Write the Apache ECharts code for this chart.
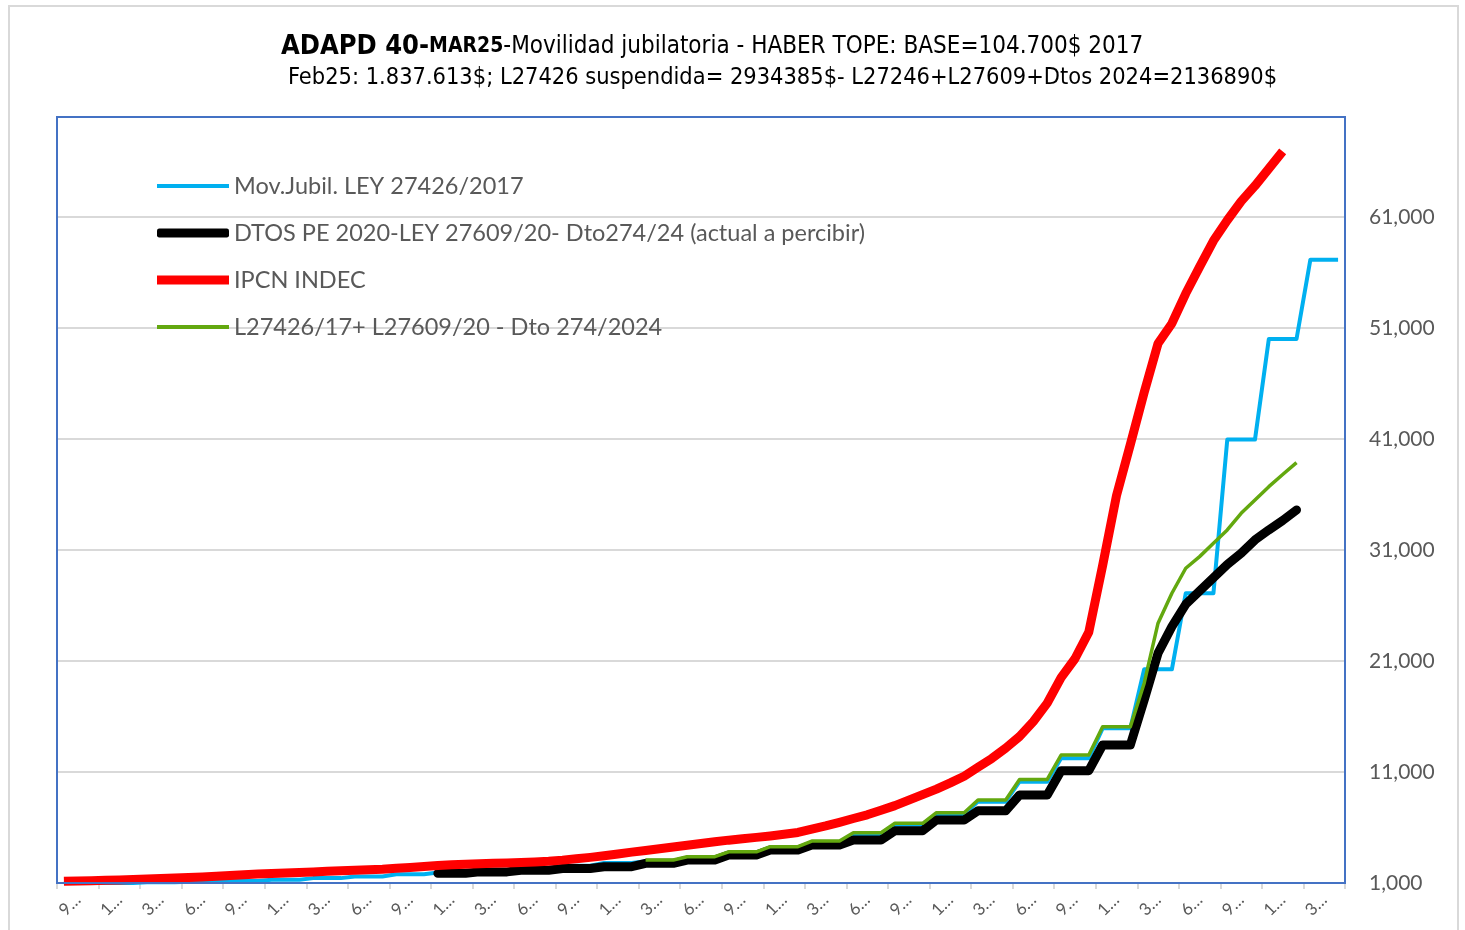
<!DOCTYPE html>
<html><head><meta charset="utf-8">
<script src="https://cdn.jsdelivr.net/npm/echarts@6/dist/echarts.min.js"></script>
<style>html,body{margin:0;padding:0;background:#fff}#c{width:1465px;height:930px}</style>
</head><body><div id="c"></div>
<script>
// Monthly categories (Sep 2017 .. May 2025)
const months = ['9/2017','10/2017','11/2017','12/2017',
 '1/2018','2/2018','3/2018','4/2018','5/2018','6/2018','7/2018','8/2018','9/2018','10/2018','11/2018','12/2018',
 '1/2019','2/2019','3/2019','4/2019','5/2019','6/2019','7/2019','8/2019','9/2019','10/2019','11/2019','12/2019',
 '1/2020','2/2020','3/2020','4/2020','5/2020','6/2020','7/2020','8/2020','9/2020','10/2020','11/2020','12/2020',
 '1/2021','2/2021','3/2021','4/2021','5/2021','6/2021','7/2021','8/2021','9/2021','10/2021','11/2021','12/2021',
 '1/2022','2/2022','3/2022','4/2022','5/2022','6/2022','7/2022','8/2022','9/2022','10/2022','11/2022','12/2022',
 '1/2023','2/2023','3/2023','4/2023','5/2023','6/2023','7/2023','8/2023','9/2023','10/2023','11/2023','12/2023',
 '1/2024','2/2024','3/2024','4/2024','5/2024','6/2024','7/2024','8/2024','9/2024','10/2024','11/2024','12/2024',
 '1/2025','2/2025','3/2025','4/2025','5/2025'];
// Quarterly tick labels (shown truncated as in the original)
const quarterLabels = ['9/2017','12/2017','3/2018','6/2018','9/2018','12/2018','3/2019','6/2019','9/2019','12/2019',
 '3/2020','6/2020','9/2020','12/2020','3/2021','6/2021','9/2021','12/2021','3/2022','6/2022','9/2022','12/2022',
 '3/2023','6/2023','9/2023','12/2023','3/2024','6/2024','9/2024','12/2024','3/2025'];

const seriesNames = ['Mov.Jubil. LEY 27426/2017',
 'DTOS PE 2020-LEY 27609/20- Dto274/24 (actual a percibir)',
 'IPCN INDEC',
 'L27426/17+ L27609/20 - Dto 274/2024'];

const movJubil = [1000,1000,1000,1000,1000,1000,1060,1060,1060,1120,1120,1120,1190,1190,1190,1290,1290,1290,
 1440,1440,1440,1590,1590,1590,1790,1790,1790,1940,1940,1940,2150,2150,2150,2350,2350,2350,2550,2550,2550,
 2800,2800,2800,2950,2950,2950,3250,3250,3250,3700,3700,3700,4150,4150,4150,4650,4650,4650,5400,5400,5400,
 6250,6250,6250,7200,7200,7200,8330,8330,8330,10130,10130,10130,12230,12230,12230,14930,14930,14930,
 20250,20250,20250,27100,27100,27100,40940,40940,40940,50000,50000,50000,57150,57150,57150];

const dtosPE = [null,null,null,null,null,null,null,null,null,null,null,null,null,null,null,null,null,null,
 null,null,null,null,null,null,null,null,null,1870,1870,1870,2000,2000,2000,2150,2150,2150,2300,2300,2300,
 2470,2470,2470,2770,2770,2770,3070,3070,3070,3520,3520,3520,3970,3970,3970,4420,4420,4420,4870,4870,4870,
 5710,5710,5710,6680,6680,6680,7500,7500,7500,8930,8930,8930,11120,11120,11120,13430,13430,13430,
 17500,21700,24100,26100,27300,28500,29700,30700,31900,32800,33650,34600,null,null,null];

const ipcn = [1150,1180,1210,1250,1280,1320,1360,1400,1440,1490,1540,1600,1680,1740,1800,1860,1900,1950,
 2000,2050,2100,2150,2190,2240,2320,2400,2480,2580,2640,2690,2730,2770,2800,2850,2900,2960,3060,3190,3310,
 3450,3610,3780,3930,4080,4240,4400,4560,4710,4860,4980,5110,5240,5390,5550,5850,6140,6470,6810,7140,7550,
 7970,8460,8960,9460,10020,10620,11420,12220,13150,14190,15550,17200,19500,21200,23600,29600,35900,40500,
 45200,49600,51400,54100,56500,58850,60700,62400,63800,65350,66900,null,null,null,null];

const l27426 = [null,null,null,null,null,null,null,null,null,null,null,null,null,null,null,null,null,null,
 null,null,null,null,null,null,null,null,null,null,null,null,null,null,null,null,null,null,null,null,null,
 null,null,null,3070,3070,3070,3370,3370,3370,3810,3810,3810,4270,4270,4270,4780,4780,4780,5530,5530,5530,
 6380,6380,6380,7330,7330,7330,8480,8480,8480,10330,10330,10330,12530,12530,12530,15080,15080,15080,
 19000,24400,27100,29350,30400,31600,32800,34300,35500,36700,37800,38870,null,null,null];

const colors = ['#00B0F0','#000000','#FF0000','#63A80F'];
const widths = [4,9,9,3.5];
const FONT = 'Lato, "Open Sans", sans-serif';
const TFONT = '"DejaVu Sans Condensed", "DejaVu Sans", sans-serif';

const chart = echarts.init(document.getElementById('c'), null, {renderer:'canvas'});
const legendTops = [172,219,266,313];
const legendH = [4,9,9,4];
const option = {
  animation:false,
  backgroundColor:'#ffffff',
  graphic:[
    {type:'rect', silent:true, shape:{x:9,y:6,width:1449,height:940},
     style:{fill:null, stroke:'#D9D9D9', lineWidth:2}},
    {type:'rect', silent:true, z:100, shape:{x:57,y:117,width:1288,height:766},
     style:{fill:null, stroke:'#4472C4', lineWidth:2}}
  ],
  title:[
    {text:'{a|ADAPD 40-}{b|MAR25}{c|-Movilidad jubilatoria - HABER TOPE: BASE=104.700$ 2017}',
     left:276, top:28,
     textStyle:{rich:{
       a:{fontFamily:TFONT, fontWeight:'bold', fontSize:27, color:'#000'},
       b:{fontFamily:TFONT, fontWeight:'bold', fontSize:21, color:'#000'},
       c:{fontFamily:TFONT, fontWeight:'normal', fontSize:24, color:'#000'}}}},
    {text:'Feb25: 1.837.613$; L27426 suspendida= 2934385$- L27246+L27609+Dtos 2024=2136890$',
     left:283, top:61,
     textStyle:{fontFamily:TFONT, fontWeight:'normal', fontSize:23.4, color:'#000'}}
  ],
  legend: seriesNames.map((n,k)=>({
    data:[n], left:157, top:legendTops[k]+1, padding:0, selectedMode:false,
    itemWidth:72, itemHeight:legendH[k], icon: k===1 ? 'roundRect' : 'rect',
    textStyle:{fontFamily:FONT, fontSize:23.5, color:'#595959', lineHeight:26}
  })),
  grid:{left:57, right:120, top:117, bottom:47, show:false},
  xAxis:[
    {type:'category', data:months, boundaryGap:true,
     axisLine:{show:false}, axisTick:{show:false}, axisLabel:{show:false}, splitLine:{show:false}},
    {type:'category', data:quarterLabels, boundaryGap:true, position:'bottom',
     axisLine:{show:true, lineStyle:{color:'#B4C7E7', width:2}},
     axisTick:{show:true, interval:0, length:6, lineStyle:{color:'#D9D9D9', width:2}},
     axisLabel:{interval:0, rotate:45, margin:14, color:'#595959', fontFamily:FONT, fontSize:17,
       formatter:(v)=>v.charAt(0)+'…'},
     splitLine:{show:false}}
  ],
  yAxis:{type:'value', position:'right', min:1000, max:70000, interval:10000,
    axisLine:{show:false}, axisTick:{show:false},
    splitLine:{showMaxLine:false, showMinLine:false, lineStyle:{color:'#D9D9D9', width:2}},
    axisLabel:{showMaxLabel:false, color:'#595959', fontFamily:FONT, fontSize:21, margin:24}},
  series:[movJubil, dtosPE, ipcn, l27426].map((d,k)=>({
    name:seriesNames[k], type:'line', data:d, xAxisIndex:0, color:colors[k],
    symbol:'none', showSymbol:false, connectNulls:false,
    lineStyle:{color:colors[k], width:widths[k], join:'round', cap: k===1 ? 'round' : 'butt'}
  }))
};
chart.setOption(option);
</script>
</body></html>
